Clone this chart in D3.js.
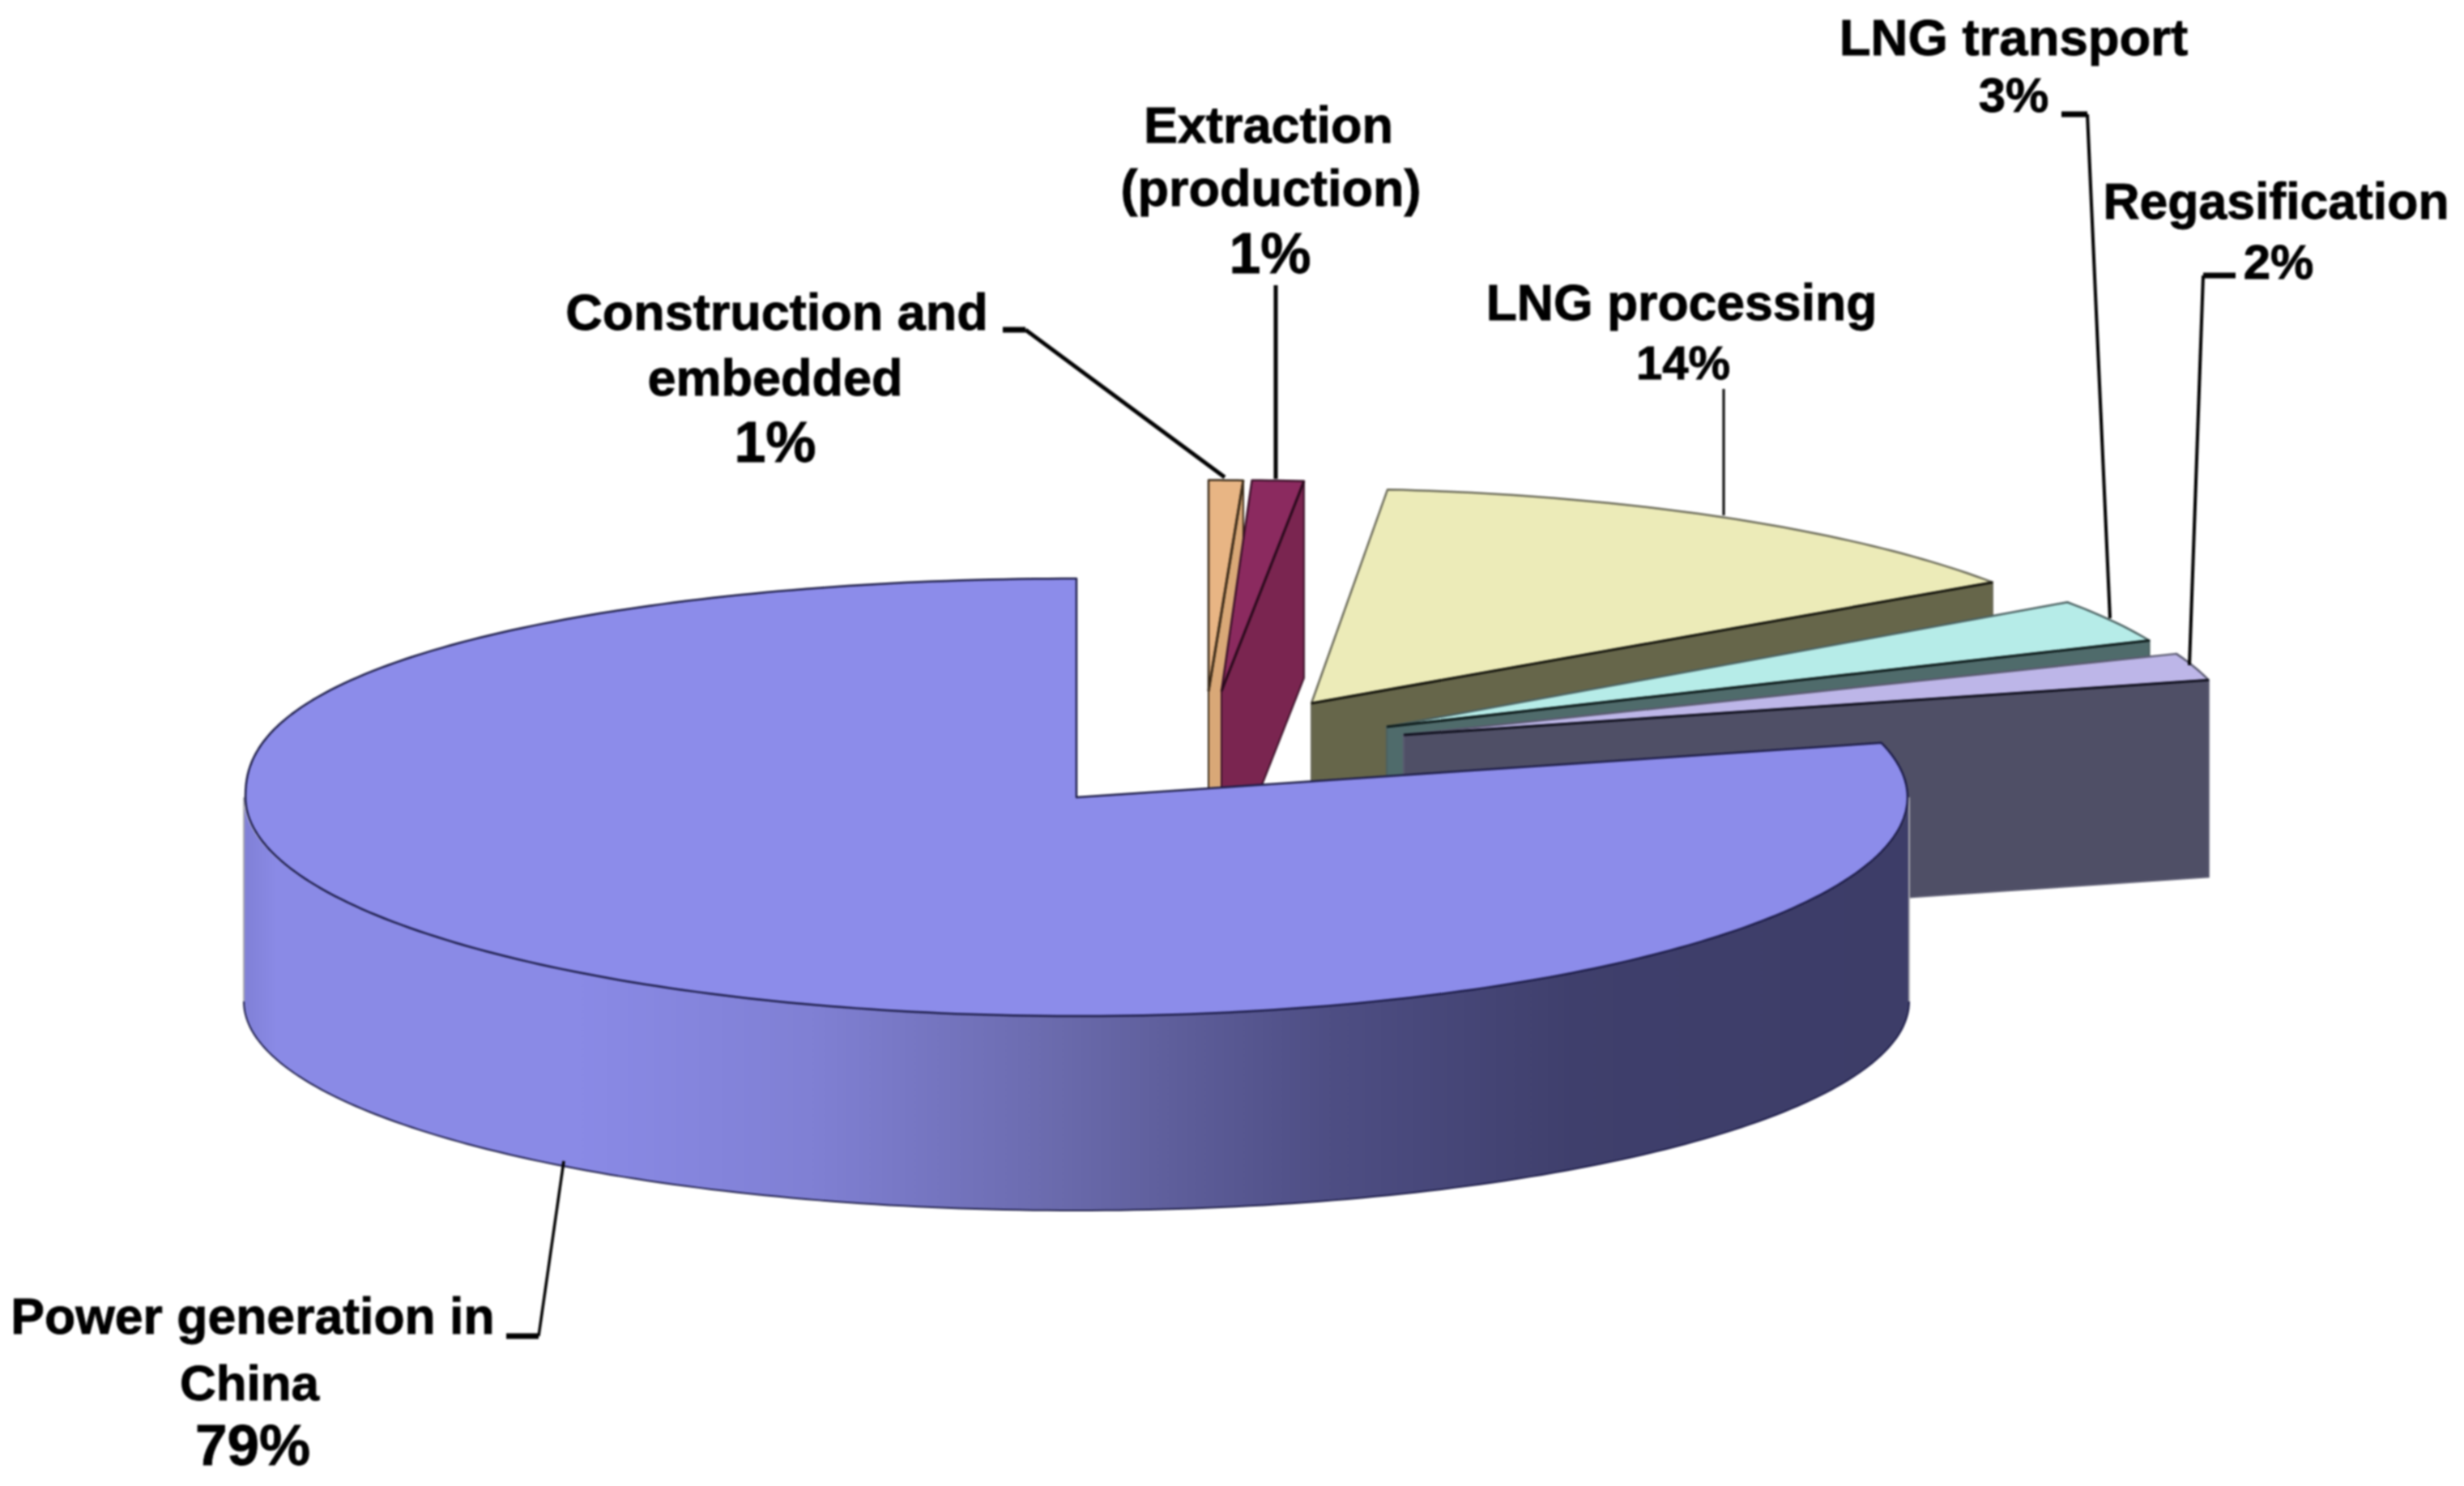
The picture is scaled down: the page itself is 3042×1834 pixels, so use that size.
<!DOCTYPE html>
<html>
<head>
<meta charset="utf-8">
<script src="https://cdn.jsdelivr.net/npm/d3@7"></script>
<style>
html,body{margin:0;padding:0;background:#fff}
svg{display:block;filter:blur(0.8px)}
text{font-family:"Liberation Sans",Arial,sans-serif;font-weight:700;fill:#000;stroke:#000;stroke-width:0.9px;text-anchor:middle}
</style>
</head>
<body>
<script>
// ---- data (clockwise from 12 o'clock) ----
const categories = ["Construction and embedded","Extraction (production)","LNG processing","LNG transport","Regasification","Power generation in China"];
const shares = [1,1,14,3,2,79];
const tickLabels = ["1%","1%","14%","3%","2%","79%"];

// ---- styles ----
const topColors  = ["#E8B584","#8B2A5F","#ECEBB8","#B6ECE8","#BDB6E8","#8C8CEA"];
const wallColors = ["#D9A877","#7A2550","#66664A","#4F6B6B","#4F4F66","#3D3D68"];
const edgeColors = ["#3a2a18","#3a1028","#6a6a58","#4a6060","#5a5a70","#1c1c48"];
const ridgeColors = ["#3a2a18","#2a0a1c","#14140c","#0e1c1c","#10101e"];

// ---- layout: centre of each exploded slice and its projection ----
const W = 3042, H = 1834, DEPTH = 243;
const layout = [
  {cx:1492,cy:853,rx:684,ry:260.5,rot:0,sc:1},
  {cx:1508,cy:853,rx:1026,ry:260.5,rot:-1.5,sc:1},
  {cx:1619,cy:868,rx:1018,ry:265,rot:-1.9,sc:1},
  {cx:1712,cy:897,rx:1026,ry:268,rot:-6.87,sc:1.074},
  {cx:1733,cy:907,rx:1026,ry:272,rot:0,sc:1},
  {cx:1329,cy:984,rx:1026,ry:270,rot:0,sc:1,backLeftPow:0.87}
];
const mainWall = {rx:1028,topDy:0,botDy:252,botRy:258};

const svg = d3.select("body").append("svg").attr("width",W).attr("height",H).attr("viewBox",`0 0 ${W} ${H}`);
svg.append("rect").attr("width",W).attr("height",H).attr("fill","#fff");

const grad = svg.append("defs").append("linearGradient").attr("id","wall")
  .attr("gradientUnits","userSpaceOnUse").attr("x1",301).attr("x2",2357).attr("y1",0).attr("y2",0);
[[0,"#8080d6"],[0.02,"#8A8AE6"],[0.2,"#8A8AE6"],[0.34,"#8080D4"],[0.49,"#6A6AAC"],[0.65,"#4E4E84"],[0.8,"#3F3F6C"],[1,"#3D3D68"]]
  .forEach(s=>grad.append("stop").attr("offset",s[0]).attr("stop-color",s[1]));

const pie = d3.pie().value(d=>d).sort(null);
const arcs = pie(shares);
const line = d3.line();
const rad = Math.PI/180;
const proj = (l,a)=>{
  const t=a*l.sc+l.rot*rad, s=Math.sin(t), c=Math.cos(t);
  const cy = (l.backLeftPow && s<0 && c>0) ? Math.pow(c,l.backLeftPow) : c;
  return [l.cx+l.rx*s, l.cy-l.ry*cy];
};
const sample = (a0,a1)=>{const n=Math.max(6,Math.ceil((a1-a0)/rad));return d3.range(n+1).map(i=>a0+(a1-a0)*i/n);};

const g = svg.append("g");
arcs.forEach((d,i)=>{
  const l = layout[i], isMain = i===arcs.length-1;
  const apex=[l.cx,l.cy];
  const group = g.append("g");
  const e = proj(l,d.endAngle);
  if(!isMain){
    // radial wall at the slice's end angle
    group.append("path")
      .attr("d",line([apex,e,[e[0],e[1]+DEPTH],[apex[0],apex[1]+DEPTH]])+"Z")
      .attr("fill",wallColors[i]).attr("stroke",edgeColors[i]).attr("stroke-width",2);
  } else {
    // outer curved wall (front half of the ellipse)
    const as = sample(Math.PI/2,3*Math.PI/2);
    const top = as.map(a=>[l.cx+mainWall.rx*Math.sin(a), l.cy-l.ry*Math.cos(a)]);
    const bot = as.map(a=>[l.cx+mainWall.rx*Math.sin(a), l.cy+mainWall.botDy-mainWall.botRy*Math.cos(a)]).reverse();
    group.append("path").attr("d",line(top.concat(bot))+"Z").attr("fill","url(#wall)");
    group.append("path").attr("d",line(bot)).attr("fill","none").attr("stroke",edgeColors[i]).attr("stroke-width",2);
    [[top[0],bot[bot.length-1]],[top[top.length-1],bot[0]]].forEach(v=>
      group.append("path").attr("d",line(v)).attr("stroke","#a8a8b0").attr("stroke-width",2));
  }
  const topPts=[apex].concat(sample(d.startAngle,d.endAngle).map(a=>proj(l,a)));
  group.append("path").attr("d",line(topPts)+"Z")
    .attr("fill",topColors[i]).attr("stroke",edgeColors[i]).attr("stroke-width",2.5).attr("stroke-linejoin","round");
  if(!isMain){
    group.append("path").attr("d",line([apex,e])).attr("fill","none")
      .attr("stroke",ridgeColors[i]).attr("stroke-width",3);
  }
});

// ---- leader lines ----
const leaders = [
  {pts:[[1266,407],[1512,589]],w:5,tick:[[1238,407],[1266,407]]},
  {pts:[[1575,352],[1575,591]],w:5},
  {pts:[[2128,480],[2128,636]],w:3},
  {pts:[[2577,141],[2605,763]],w:4,tick:[[2545,141],[2577,141]]},
  {pts:[[2720,340],[2703,821]],w:4,tick:[[2720,340],[2760,340]]},
  {pts:[[665,1649],[696,1433]],w:3.5,tick:[[625,1649],[665,1649]]}
];
leaders.forEach(d=>{
  svg.append("path").attr("d",line(d.pts)).attr("fill","none").attr("stroke","#000").attr("stroke-width",d.w);
  if(d.tick) svg.append("path").attr("d",line(d.tick)).attr("fill","none").attr("stroke","#000").attr("stroke-width",7);
});

// ---- labels ----
const labelLines = [
  [["Construction and",959,407,63],["embedded",957,488,63],[tickLabels[0],957,570,70]],
  [["Extraction",1566,176,63],["(production)",1569,254,63],[tickLabels[1],1568,337,70]],
  [["LNG processing",2076,395,62.5],[tickLabels[2],2078,468,58]],
  [["LNG transport",2486,68,63.5],[tickLabels[3],2486,138,60]],
  [["Regasification",2810,270,62.5],[tickLabels[4],2813,344,60]],
  [["Power generation in",312,1646,62.5],["China",308,1728,62],[tickLabels[5],312,1808,71]]
];
labelLines.flat().forEach(t=>{
  svg.append("text").attr("x",t[1]).attr("y",t[2]).attr("font-size",t[3]).text(t[0]);
});
</script>
</body>
</html>
